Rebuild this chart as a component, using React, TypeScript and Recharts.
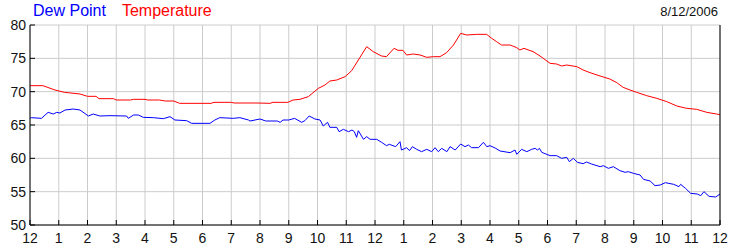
import React from 'react'
import { LineChart, Line, XAxis, YAxis, CartesianGrid } from 'recharts'

// hours since midnight (0..24) and readings in °F
const tempHours = [
  0, 0.45, 0.87, 1.2, 1.74, 2.0, 2.3, 2.4, 2.9, 3.0, 3.5, 3.6, 4.0, 4.1, 4.5, 4.7, 5.0, 5.2, 6.3, 6.4,
  7.0, 7.1, 7.9, 8.35, 8.45, 8.97, 9.15, 9.39, 9.68, 10.03, 10.26, 10.43, 10.67, 10.96, 11.19, 11.42,
  11.71, 11.94, 12.23, 12.4, 12.66, 12.8, 12.97, 13.1, 13.33, 13.57, 13.8, 14.03, 14.26, 14.49, 14.73,
  14.98, 15.19, 15.54, 15.88, 16.06, 16.23, 16.4, 16.7, 16.93, 17.04, 17.18, 17.5, 17.74, 18.09, 18.32,
  18.49, 18.67, 19.02, 19.24, 19.48, 19.83, 20.17, 20.41, 20.63, 20.87, 21.1, 21.45, 21.8, 22.15, 22.5,
  22.84, 23.19, 23.54, 23.88, 24,
]
const tempValues = [
  70.9, 70.9, 70.25, 69.9, 69.65, 69.3, 69.3, 68.95, 68.95, 68.75, 68.75, 68.85, 68.85, 68.75, 68.75,
  68.6, 68.6, 68.25, 68.25, 68.4, 68.4, 68.3, 68.3, 68.25, 68.4, 68.4, 68.75, 68.85, 69.25, 70.5, 71.0,
  71.6, 71.75, 72.25, 73.15, 74.75, 76.75, 76.0, 75.35, 75.25, 76.5, 76.2, 76.2, 75.5, 75.65, 75.5,
  75.15, 75.25, 75.25, 75.85, 77.0, 78.75, 78.5, 78.6, 78.6, 78.0, 77.5, 77.0, 77.0, 76.6, 76.25, 76.5,
  76.0, 75.35, 74.25, 74.15, 73.85, 74.0, 73.75, 73.25, 72.85, 72.35, 71.9, 71.35, 70.65, 70.25, 69.9,
  69.4, 69.0, 68.5, 67.85, 67.5, 67.35, 66.9, 66.65, 66.55,
]

const dewHours = [
  0, 0.05, 0.4, 0.63, 0.81, 0.93, 1.04, 1.22, 1.5, 1.74, 2.03, 2.2, 2.43, 2.78, 3.36, 3.42, 3.6, 3.77,
  3.94, 4.29, 4.64, 4.87, 5.04, 5.45, 5.62, 6.26, 6.43, 6.6, 7.07, 7.3, 7.6, 7.65, 8.0, 8.2, 8.6, 8.7,
  8.8, 9.0, 9.2, 9.45, 9.56, 9.71, 9.91, 10.09, 10.2, 10.35, 10.43, 10.67, 10.75, 10.9, 11.08, 11.2,
  11.28, 11.36, 11.42, 11.6, 11.71, 11.83, 12.06, 12.23, 12.4, 12.5, 12.72, 12.87, 12.92, 13.1, 13.2,
  13.3, 13.45, 13.62, 13.8, 13.97, 14.09, 14.2, 14.32, 14.5, 14.61, 14.79, 14.98, 15.13, 15.25, 15.36,
  15.6, 15.77, 15.89, 16.0, 16.2, 16.35, 16.7, 16.87, 16.93, 17.1, 17.28, 17.45, 17.57, 17.65, 17.72,
  17.8, 18.09, 18.32, 18.49, 18.67, 18.76, 18.9, 19.04, 19.24, 19.36, 19.53, 19.83, 19.94, 20.12,
  20.29, 20.52, 20.7, 20.81, 20.99, 21.22, 21.34, 21.57, 21.74, 21.92, 22.1, 22.39, 22.57, 22.63, 22.8,
  22.98, 23.21, 23.33, 23.44, 23.62, 23.85, 24,
]
const dewValues = [
  66.0, 66.1, 66.0, 66.9, 66.65, 66.9, 66.8, 67.25, 67.4, 67.25, 66.35, 66.65, 66.35, 66.4, 66.35, 66.0,
  66.5, 66.5, 66.15, 66.1, 65.95, 66.25, 65.75, 65.65, 65.25, 65.25, 65.75, 66.1, 66.0, 66.1, 65.75,
  65.6, 65.9, 65.6, 65.6, 65.4, 65.75, 65.75, 66.0, 65.4, 65.65, 66.35, 65.9, 65.75, 64.85, 65.4, 64.65,
  64.65, 64.0, 64.35, 64.0, 64.25, 64.0, 63.15, 64.15, 62.85, 63.25, 62.85, 62.85, 62.4, 61.9, 62.1,
  61.75, 62.5, 61.25, 61.6, 61.15, 61.75, 61.35, 61.0, 61.35, 61.0, 61.6, 61.0, 61.5, 61.0, 61.75,
  61.25, 62.15, 61.75, 62.0, 61.6, 61.6, 62.4, 61.75, 61.9, 61.5, 61.1, 60.85, 61.25, 60.6, 61.35, 61.0,
  61.35, 61.5, 61.25, 61.5, 60.9, 60.4, 60.4, 60.0, 60.15, 59.5, 60.0, 59.4, 59.2, 59.45, 59.15, 58.75,
  58.9, 58.5, 58.75, 58.15, 57.9, 58.0, 57.75, 57.5, 56.85, 56.6, 55.9, 56.0, 56.35, 56.1, 55.75, 56.1,
  55.5, 54.75, 54.65, 54.4, 55.0, 54.3, 54.2, 54.65,
]

const hourTicks = [0, 1, 2, 3, 4, 5, 6, 7, 8, 9, 10, 11, 12, 13, 14, 15, 16, 17, 18, 19, 20, 21, 22, 23, 24]
const tempTicks = [50, 55, 60, 65, 70, 75, 80]
const chartDate = '8/12/2006'

const tempData = tempHours.map((h, i) => ({ h, v: tempValues[i] }))
const dewData = dewHours.map((h, i) => ({ h, v: dewValues[i] }))

const hourLabel = (h: number) => (h % 12 === 0 ? '12' : String(h % 12))

const font = '"Liberation Sans", Arial, sans-serif'
const tickColor = '#111'

const BottomTick = (props: any) => {
  const { x, y, payload } = props
  return (
    <g>
      <line x1={x} x2={x} y1={y - 8} y2={y - 13} stroke="#000" />
      <text x={x} y={y + 10} textAnchor="middle" fontSize={14} fontFamily={font} fill={tickColor}>
        {hourLabel(payload.value)}
      </text>
    </g>
  )
}

const TopTick = (props: any) => {
  const { x, y } = props
  return <line x1={x} x2={x} y1={y} y2={y + 5} stroke="#000" />
}

const LeftTick = (props: any) => {
  const { x, y, payload } = props
  return (
    <g>
      <line x1={x + 4} x2={x + 9} y1={y} y2={y} stroke="#000" />
      <text x={x} y={y + 5} textAnchor="end" fontSize={14} fontFamily={font} fill={tickColor}>
        {payload.value}
      </text>
    </g>
  )
}

const RightTick = (props: any) => {
  const { x, y, payload } = props
  return (
    <g>
      <line x1={x - 7} x2={x - 12} y1={y} y2={y} stroke="#000" />
      <text x={x} y={y + 5} textAnchor="start" fontSize={14} fontFamily={font} fill={tickColor}>
        {payload.value}
      </text>
    </g>
  )
}

export default function App() {
  return (
    <div style={{ position: 'absolute', left: 0, top: 0, width: 750, height: 250, background: '#fff', fontFamily: font }}>
      <div style={{ position: 'absolute', left: 33, top: 2, fontSize: 16, lineHeight: '18px', whiteSpace: 'nowrap' }}>
        <span style={{ color: '#0000ff' }}>Dew Point</span>
        <span style={{ color: '#ff0000', marginLeft: 16 }}>Temperature</span>
      </div>
      <div style={{ position: 'absolute', right: 32, top: 4, fontSize: 13, lineHeight: '15px', color: '#111' }}>
        {chartDate}
      </div>
      <LineChart width={750} height={250} margin={{ top: 25, right: 0, bottom: 0, left: 0 }}>
        <CartesianGrid stroke="#cccccc" strokeDasharray="" />
        <XAxis
          dataKey="h"
          type="number"
          domain={[0, 24]}
          ticks={hourTicks}
          interval={0}
          height={25}
          tickSize={0}
          tickMargin={8}
          tickLine={false}
          tick={<BottomTick />}
          axisLine={{ stroke: '#000' }}
          allowDuplicatedCategory={false}
        />
        <XAxis
          xAxisId="top"
          orientation="top"
          dataKey="h"
          type="number"
          domain={[0, 24]}
          ticks={hourTicks}
          interval={0}
          height={0}
          tickSize={0}
          tickMargin={0}
          tickLine={false}
          tick={<TopTick />}
          axisLine={{ stroke: '#000' }}
        />
        <YAxis
          type="number"
          domain={[50, 80]}
          ticks={tempTicks}
          interval={0}
          width={30}
          tickSize={0}
          tickMargin={4}
          tickLine={false}
          tick={<LeftTick />}
          axisLine={{ stroke: '#000' }}
        />
        <YAxis
          yAxisId="right"
          orientation="right"
          type="number"
          domain={[50, 80]}
          ticks={tempTicks}
          interval={0}
          width={30}
          tickSize={0}
          tickMargin={7}
          tickLine={false}
          tick={<RightTick />}
          axisLine={{ stroke: '#000' }}
        />
        <Line
          data={dewData}
          dataKey="v"
          type="linear"
          stroke="#0000ff"
          strokeWidth={1}
          dot={false}
          isAnimationActive={false}
        />
        <Line
          data={tempData}
          dataKey="v"
          type="linear"
          stroke="#ff0000"
          strokeWidth={1}
          dot={false}
          isAnimationActive={false}
        />
      </LineChart>
    </div>
  )
}
